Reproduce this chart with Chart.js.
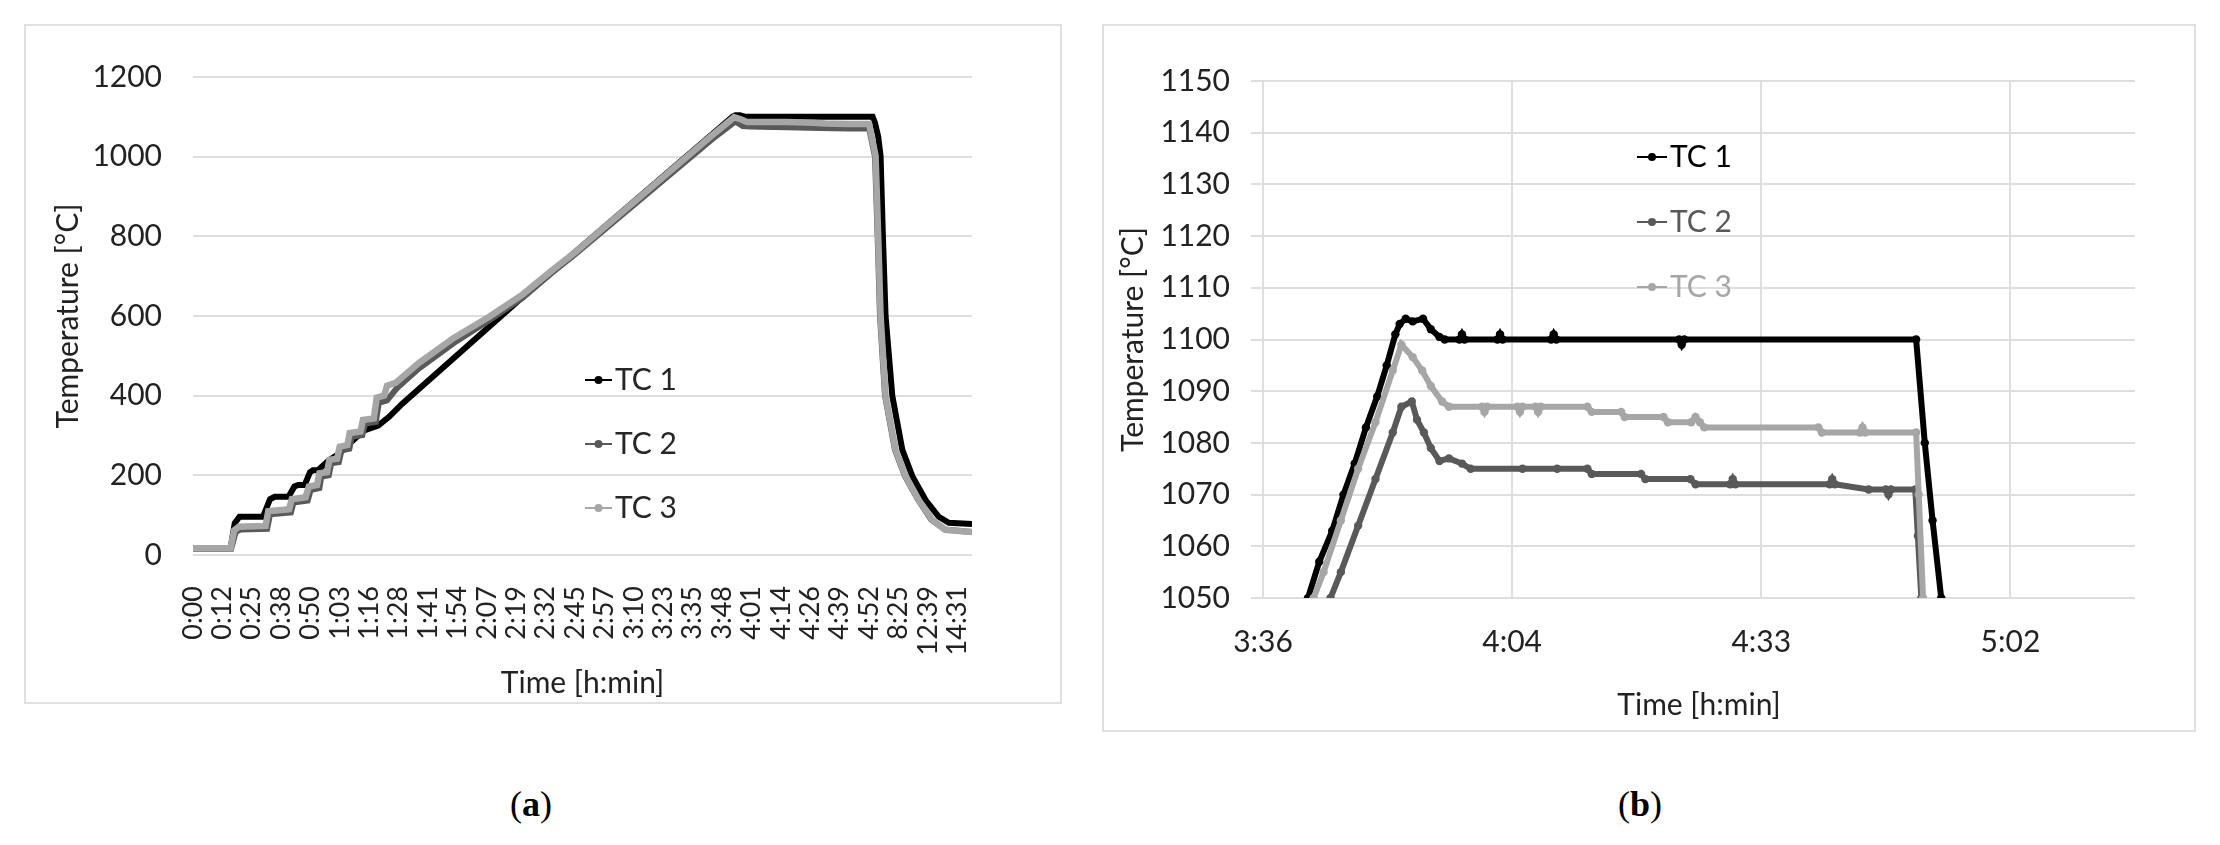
<!DOCTYPE html>
<html>
<head>
<meta charset="utf-8">
<script src="https://cdn.jsdelivr.net/npm/chart.js@4.4.1/dist/chart.umd.min.js"></script>
<style>
  body { margin: 0; width: 2220px; height: 845px; background: #fff; position: relative; overflow: hidden; }
  .panel { position: absolute; box-sizing: border-box; border: 2px solid #e0e0e0; }
  canvas { position: absolute; }
  .caption { position: absolute; font-family: 'Liberation Serif', serif; font-size: 36px; color: #000; transform: translate(-50%, -50%); }
</style>
</head>
<body>
<div class="panel" style="left:24px;top:24px;width:1038px;height:680px"></div>
<div class="panel" style="left:1102px;top:24px;width:1094px;height:708px"></div>
<canvas id="chartA" width="1036" height="678" style="left:25px;top:25px"></canvas>
<canvas id="chartB" width="1092" height="706" style="left:1103px;top:25px"></canvas>
<div class="caption" style="left:531px;top:804px">(<b>a</b>)</div>
<div class="caption" style="left:1640px;top:804px">(<b>b</b>)</div>
<script>
// (a) whole cycle, x = position on the category axis (label index)
const labelsA = ['0:00', '0:12', '0:25', '0:38', '0:50', '1:03', '1:16', '1:28', '1:41', '1:54',
  '2:07', '2:19', '2:32', '2:45', '2:57', '3:10', '3:23', '3:35', '3:48', '4:01',
  '4:14', '4:26', '4:39', '4:52', '8:25', '12:39', '14:31'];

const posA1 = [0, 1.28, 1.42, 1.58, 2.38, 2.62, 2.78, 3.25, 3.45, 3.58, 3.8, 3.98, 4.08, 4.25, 4.6, 5.0, 5.4,
  5.8, 6.3, 6.67, 7.12, 11.1, 17.56, 18.36, 18.45, 18.6, 18.8, 23.12, 23.2, 23.31, 23.39, 23.47, 23.56,
  23.79, 24.13, 24.47, 24.92, 25.37, 25.71, 26.5];
const tempA1 = [17, 17, 80, 96, 96, 140, 146, 146, 172, 176, 176, 208, 213, 213, 236, 256, 285,
  312, 325, 347, 380, 640, 1050, 1101, 1104, 1104, 1100, 1100, 1085, 1050, 1002, 799, 600,
  399, 264, 198, 138, 96, 81, 78];

const posA2 = [0, 1.3, 1.45, 1.62, 2.52, 2.62, 3.33, 3.42, 3.9, 4.0, 4.3, 4.36, 4.62, 4.7, 4.96, 5.05, 5.32,
  5.4, 5.76, 5.85, 6.22, 6.32, 6.6, 6.95, 7.68, 8.87, 10.05, 11.23, 12.17, 13.0, 17.76, 18.44, 18.55,
  18.7, 18.96, 19.3, 20.2, 20.6, 21.3, 22.3, 23.0, 23.2, 23.29, 23.37, 23.54, 23.88, 24.22, 24.67,
  25.12, 25.58, 26.5];
const tempA2 = [16, 16, 58, 64, 66, 102, 107, 132, 137, 163, 168, 196, 200, 230, 233, 263, 267,
  297, 301, 330, 334, 382, 388, 420, 468, 532, 588, 647, 706, 755, 1050, 1088, 1084,
  1077, 1076, 1075, 1074, 1073, 1072, 1071, 1071, 1000, 800, 600, 400, 264, 198, 138,
  88, 64, 58];

const posA3 = [0, 1.28, 1.4, 1.56, 2.47, 2.56, 3.27, 3.36, 3.83, 3.94, 4.22, 4.3, 4.56, 4.64, 4.9, 4.99,
  5.25, 5.33, 5.7, 5.78, 6.15, 6.25, 6.5, 6.6, 6.89, 7.68, 8.87, 10.05, 11.23, 12.17, 13.0, 17.6,
  18.41, 18.63, 18.85, 20.2, 21.1, 21.5, 22.25, 23.0, 23.22, 23.31, 23.39, 23.56, 23.9, 24.24,
  24.69, 25.15, 25.6, 26.5];
const tempA3 = [17, 17, 62, 71, 73, 110, 115, 140, 145, 172, 176, 205, 208, 239, 242, 272,
  276, 306, 310, 339, 343, 395, 400, 425, 432, 482, 545, 597, 655, 712, 760, 1050,
  1099, 1094, 1087, 1087, 1085, 1083, 1082, 1082, 1002, 799, 600, 399, 264, 198,
  138, 88, 63, 58];

// (b) holding stage, x in minutes
const tickMinB = [216, 244.8, 273.6, 302.4];
const tickLabelsB = ['3:36', '4:04', '4:33', '5:02'];

const timeB1 = [221.2, 222.5, 224.0, 225.3, 226.6, 227.9, 229.2, 230.3, 231.3, 231.8, 232.5, 233.3, 234.5,
  235.4, 236.4, 237.0, 238.7, 239.0, 239.3, 243.1, 243.4, 243.7, 249.3, 249.6, 249.9, 264.1, 264.4,
  264.7, 291.5, 292.5, 293.4, 294.4];
const tempB1 = [1050, 1057, 1063, 1070, 1076, 1083, 1089, 1095, 1101, 1103, 1104, 1103.5, 1104,
  1102, 1100.5, 1100, 1100, 1101, 1100, 1100, 1101, 1100, 1100, 1101, 1100, 1100, 1099,
  1100, 1100, 1080, 1065, 1050];

const timeB2 = [223.8, 225.0, 227.0, 229.0, 231.0, 232.0, 233.2, 233.8, 234.6, 235.4, 236.4, 237.5, 239.0,
  240.0, 246.0, 250.0, 253.5, 254.0, 259.7, 260.2, 265.4, 266.0, 270.0, 270.3, 270.6, 281.5, 281.8,
  282.1, 286.0, 288.0, 288.3, 288.6, 291.4, 291.7, 292.1];
const tempB2 = [1050, 1055, 1064, 1073, 1082, 1087, 1088, 1084.5, 1082, 1079, 1076.5, 1077, 1076,
  1075, 1075, 1075, 1075, 1074, 1074, 1073, 1073, 1072, 1072, 1073, 1072, 1072, 1073,
  1072, 1071, 1071, 1070, 1071, 1071, 1062, 1050];

const timeB3 = [221.85, 223.0, 225.0, 227.0, 229.0, 231.0, 232.0, 233.3, 234.4, 235.4, 236.7, 237.5, 241.3,
  241.6, 241.9, 245.4, 245.7, 246.0, 247.5, 247.8, 248.1, 253.5, 254.0, 257.4, 257.8, 262.3, 262.8,
  265.5, 266.0, 266.5, 267.0, 280.2, 280.6, 285.0, 285.3, 285.6, 291.5, 291.8, 292.3];
const tempB3 = [1050, 1055, 1065, 1075, 1084, 1094, 1099, 1096.6, 1094, 1091, 1088, 1087, 1087,
  1086, 1087, 1087, 1086, 1087, 1087, 1086, 1087, 1087, 1086, 1086, 1085, 1085, 1084,
  1084, 1085, 1084, 1083, 1083, 1082, 1082, 1083, 1082, 1082, 1070, 1050];

const seriesNames = ['TC 1', 'TC 2', 'TC 3'];
const seriesColors = ['#000000', '#595959', '#a6a6a6'];

Chart.defaults.font.family = 'Lato';
Chart.defaults.color = '#222222';

function toPoints(xs, ys) {
  return xs.map((x, i) => ({ x: x, y: ys[i] }));
}

// legend drawn inside the plot, like the Excel one
const insideLegend = {
  id: 'insideLegend',
  afterDraw(chart, args, opts) {
    const ctx = chart.ctx;
    ctx.save();
    chart.data.datasets.forEach((ds, i) => {
      const y = opts.y[i];
      ctx.strokeStyle = ds.borderColor;
      ctx.lineWidth = 2;
      ctx.beginPath();
      ctx.moveTo(opts.x, y);
      ctx.lineTo(opts.x + opts.len, y);
      ctx.stroke();
      ctx.fillStyle = ds.borderColor;
      ctx.beginPath();
      ctx.arc(opts.x + opts.len / 2, y, 4, 0, Math.PI * 2);
      ctx.fill();
      ctx.fillStyle = opts.textColors[i];
      ctx.font = '30px Lato';
      ctx.textBaseline = 'middle';
      ctx.textAlign = 'left';
      ctx.fillText(ds.label, opts.x + opts.len + 3, y);
    });
    ctx.restore();
  }
};

function makeDataset(i, xs, ys, width, radius) {
  return {
    label: seriesNames[i],
    data: toPoints(xs, ys),
    borderColor: seriesColors[i],
    backgroundColor: seriesColors[i],
    pointBackgroundColor: seriesColors[i],
    borderWidth: width,
    pointRadius: radius,
    pointBorderWidth: 0,
    tension: 0,
    order: 3 - i,
  };
}

const gridColor = '#dedede';

new Chart(document.getElementById('chartA'), {
  type: 'line',
  data: {
    datasets: [
      makeDataset(0, posA1, tempA1, 6, 0),
      makeDataset(1, posA2, tempA2, 6, 0),
      makeDataset(2, posA3, tempA3, 6.5, 0),
    ]
  },
  options: {
    responsive: false,
    animation: false,
    devicePixelRatio: 1,
    layout: { padding: { left: 0, top: 52, right: 89, bottom: 0 } },
    plugins: {
      legend: { display: false },
      tooltip: { enabled: false },
      insideLegend: { x: 560, y: [355, 419, 483], len: 27, textColors: ['#262626', '#262626', '#262626'] },
    },
    scales: {
      x: {
        type: 'linear',
        min: 0,
        max: 26.5,
        afterBuildTicks: s => { s.ticks = labelsA.map((_, i) => ({ value: i })); },
        afterFit: s => { s.height = 148; },
        grid: { display: false },
        border: { display: false },
        ticks: {
          autoSkip: false,
          minRotation: 90,
          maxRotation: 90,
          padding: 23,
          font: { size: 27 },
          callback: v => labelsA[v],
        },
        title: { display: true, text: 'Time [h:min]', font: { size: 30 }, padding: { top: 0, bottom: 2 } },
      },
      y: {
        min: 0,
        max: 1200,
        afterFit: s => { s.width = 168; },
        ticks: { stepSize: 200, padding: 31, font: { size: 30 }, callback: v => String(v) },
        grid: { color: gridColor, lineWidth: 2, drawTicks: false },
        border: { display: false },
        title: { display: true, text: 'Temperature [°C]', font: { size: 30 }, padding: { top: 25, bottom: 0 } },
      }
    }
  },
  plugins: [insideLegend]
});

new Chart(document.getElementById('chartB'), {
  type: 'line',
  data: {
    datasets: [
      makeDataset(0, timeB1, tempB1, 6, 4.2),
      makeDataset(1, timeB2, tempB2, 6, 4.2),
      makeDataset(2, timeB3, tempB3, 6, 4.2),
    ]
  },
  options: {
    responsive: false,
    animation: false,
    devicePixelRatio: 1,
    layout: { padding: { left: 0, top: 56, right: 60, bottom: 0 } },
    plugins: {
      legend: { display: false },
      tooltip: { enabled: false },
      insideLegend: { x: 534, y: [132, 197, 262], len: 30, textColors: seriesColors },
    },
    scales: {
      x: {
        type: 'linear',
        min: 216,
        max: 316.8,
        afterBuildTicks: s => { s.ticks = tickMinB.map(v => ({ value: v })); },
        afterFit: s => { s.height = 133; },
        grid: { color: gridColor, lineWidth: 2, drawTicks: false },
        border: { display: false },
        ticks: {
          autoSkip: false,
          maxRotation: 0,
          padding: 26,
          font: { size: 30 },
          callback: (v, i) => tickLabelsB[i],
        },
        title: { display: true, text: 'Time [h:min]', font: { size: 30 }, padding: { top: 0, bottom: 8 } },
      },
      y: {
        min: 1050,
        max: 1150,
        afterFit: s => { s.width = 160; },
        ticks: { stepSize: 10, padding: 21, font: { size: 30 }, callback: v => String(v) },
        grid: { color: gridColor, lineWidth: 2, tickLength: 12 },
        border: { display: false },
        title: { display: true, text: 'Temperature [°C]', font: { size: 30 }, padding: { top: 12, bottom: 0 } },
      }
    }
  },
  plugins: [insideLegend]
});
</script>
</body>
</html>
